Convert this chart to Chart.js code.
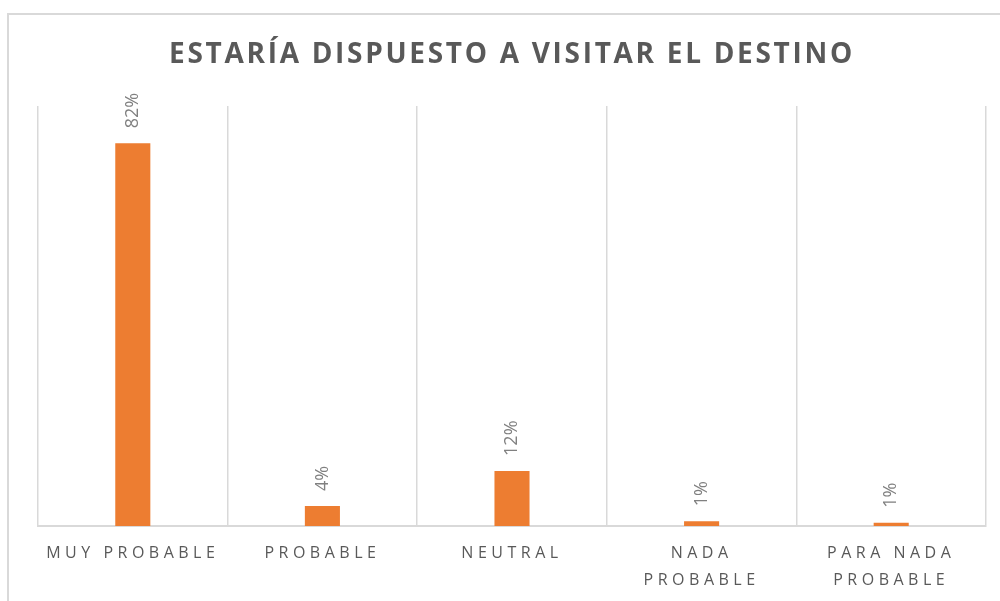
<!DOCTYPE html>
<html>
<head>
<meta charset="utf-8">
<script src="https://cdn.jsdelivr.net/npm/chart.js@4.4.1/dist/chart.umd.min.js"></script>
<style>
html,body{margin:0;padding:0;background:#fff;}
#wrap{position:relative;width:1000px;height:601px;}
</style>
</head>
<body>
<div id="wrap"><canvas id="c" width="1000" height="601"></canvas></div>
<script>
const titleText = 'ESTARÍA DISPUESTO A VISITAR EL DESTINO';
const categories = [['MUY PROBABLE'], ['PROBABLE'], ['NEUTRAL'], ['NADA', 'PROBABLE'], ['PARA NADA', 'PROBABLE']];
const values = [82, 4.3, 11.8, 1.0, 0.7];
const valueLabels = ['82%', '4%', '12%', '1%', '1%'];
const yMin = 0;
const yMax = 90;

const TICK_SPACING = '4.5px';
const TITLE_SPACING = '2.7px';

const framePlugin = {
  id: 'frame',
  beforeUpdate(chart) { chart.ctx.letterSpacing = TICK_SPACING; },
  beforeDraw(chart) {
    const ctx = chart.ctx;
    ctx.letterSpacing = TICK_SPACING;
    ctx.save();
    ctx.strokeStyle = '#d9d9d9';
    ctx.lineWidth = 2;
    ctx.strokeRect(8, 14, 1200, 800);
    ctx.restore();
  }
};

const labelPlugin = {
  id: 'valueLabels',
  afterDatasetsDraw(chart) {
    const ctx = chart.ctx;
    const meta = chart.getDatasetMeta(0);
    ctx.save();
    ctx.letterSpacing = '0px';
    ctx.font = '18px "Open Sans"';
    ctx.fillStyle = '#808080';
    ctx.textAlign = 'left';
    ctx.textBaseline = 'middle';
    meta.data.forEach((bar, i) => {
      ctx.save();
      ctx.translate(bar.x, bar.y - 15);
      ctx.rotate(-Math.PI / 2);
      ctx.fillText(valueLabels[i], 0, 0);
      ctx.restore();
    });
    ctx.restore();
  }
};

const chart = new Chart(document.getElementById('c'), {
  type: 'bar',
  data: {
    labels: categories,
    datasets: [{
      data: values,
      backgroundColor: '#ED7D31',
      borderWidth: 0,
      barPercentage: 0.185,
      categoryPercentage: 1
    }]
  },
  options: {
    responsive: false,
    animation: false,
    events: [],
    layout: { padding: { left: 38, right: 14, top: 0, bottom: 0 } },
    plugins: {
      legend: { display: false },
      tooltip: { enabled: false },
      title: {
        display: true,
        text: titleText,
        color: '#595959',
        font: { family: '"Open Sans"', size: 28, weight: 'bold' },
        padding: { top: 38, bottom: 34.4 }
      }
    },
    scales: {
      x: {
        grid: { display: true, offset: true, color: '#d9d9d9', lineWidth: 1.5, drawTicks: false },
        border: { display: true, color: '#d9d9d9', width: 2 },
        ticks: {
          color: '#595959',
          font: { family: '"Open Sans"', size: 16, lineHeight: 1.7 },
          padding: 14,
          maxRotation: 0,
          autoSkip: false
        },
        afterFit(scale) { scale.height = 75; }
      },
      y: {
        display: false,
        min: yMin,
        max: yMax
      }
    }
  },
  plugins: [framePlugin, labelPlugin]
});

const origTitleDraw = chart.titleBlock.draw.bind(chart.titleBlock);
chart.titleBlock.draw = function() {
  const ctx = chart.ctx;
  const prev = ctx.letterSpacing;
  ctx.letterSpacing = TITLE_SPACING;
  origTitleDraw();
  ctx.letterSpacing = prev;
};
chart.update();
</script>
</body>
</html>
